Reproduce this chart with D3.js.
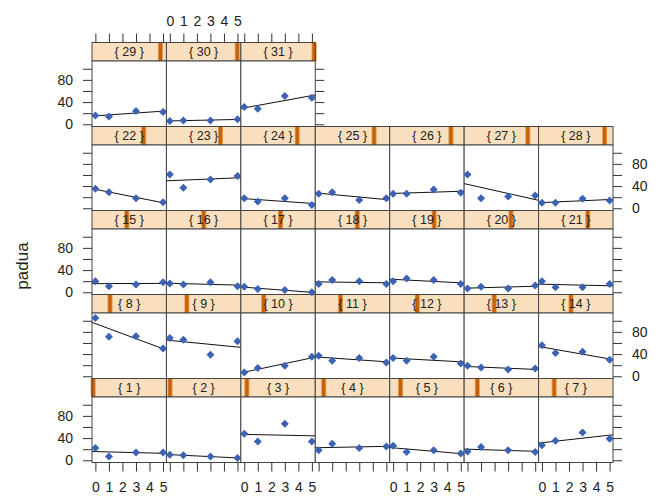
<!DOCTYPE html>
<meta charset="utf-8">
<script src="https://d3js.org/d3.v7.min.js"></script>
<style>
  body { margin: 0; background: #fff; }
  text { font-family: "Liberation Sans", Arial, sans-serif; }
</style>
<div id="chart"></div>
<script>

// days shown in the strips, and the x positions measured in every panel
const days = d3.range(1, 32);
const xValues = [0, 1, 3, 5];

// padua readings per day, one array per panel (x = 0, 1, 3, 5)
const padua = [
  [22, 7, 14, 14],   [10, 9, 7, 4],     [48, 34, 66, 34],  [18, 30, 22, 25],
  [26, 15, 18, 12],  [16, 24, 18, 15],  [27, 35, 50, 39],  [105, 71, 72, 50],
  [69, 66, 39, 63],  [7, 15, 19, 35],   [37, 28, 33, 25],  [33, 28, 35, 23],
  [19, 16, 12, 14],  [56, 42, 44, 30],  [20, 11, 14, 18],  [16, 14, 18, 11],
  [10, 6, 4, 0],     [15, 22, 20, 15],  [20, 25, 22, 15],  [7, 10, 7, 12],
  [20, 9, 9, 15],    [35, 29, 18, 11],  [61, 37, 52, 58],  [18, 12, 18, 6],
  [26, 29, 15, 18],  [26, 26, 34, 28],  [61, 18, 21, 23],  [10, 10, 17, 14],
  [16, 14, 24, 22],  [6, 7, 7, 9],      [31, 28, 51, 48]
];

const yTicks = [0, 20, 40, 60, 80, 100];
const yLabels = [0, 40, 80];
const xTicks = [0, 1, 2, 3, 4, 5];

// layout
const W = 662, H = 499;
const gridLeft = 92, gridRight = 613, gridTop = 42.5;
const nCol = 7, nRow = 5;
const colW = (gridRight - gridLeft) / nCol;
const rowH = 84, stripH = 18.5, panelH = rowH - stripH;
const gridBottom = gridTop + nRow * rowH;

const svg = d3.select("#chart").append("svg")
  .attr("width", W).attr("height", H);

const x = d3.scaleLinear().domain([-0.25, 5.25]).range([0, colW]);
const y = d3.scaleLinear().domain([-4, 114]).range([panelH, 0]);

function fit(pts) {
  const mx = d3.mean(pts, d => d[0]), my = d3.mean(pts, d => d[1]);
  const b = d3.sum(pts, d => (d[0] - mx) * (d[1] - my)) / d3.sum(pts, d => (d[0] - mx) ** 2);
  return [b, my - b * mx];
}

days.forEach((day, i) => {
  const col = i % nCol, row = Math.floor(i / nCol);     // row 0 = bottom
  const gx = gridLeft + col * colW;
  const gy = gridBottom - (row + 1) * rowH;
  const g = svg.append("g").attr("transform", `translate(${gx},${gy})`);

  // strip
  g.append("rect").attr("width", colW).attr("height", stripH)
    .attr("fill", "#f9dfbd");
  const c = (i + 0.5) / days.length * colW;
  g.append("rect").attr("x", c - 2.5).attr("width", 5).attr("height", stripH)
    .attr("fill", "#e39a45");
  g.append("rect").attr("x", c - 1.6).attr("width", 3.2).attr("height", stripH)
    .attr("fill", "#c7600f");
  g.append("text").attr("x", colW / 2).attr("y", stripH / 2 + 4.5)
    .attr("text-anchor", "middle").attr("font-size", 12.5).attr("fill", "#222")
    .text(`{ ${day} }`);
  g.append("rect").attr("width", colW).attr("height", stripH)
    .attr("fill", "none").attr("stroke", "#444");

  // panel
  const p = g.append("g").attr("transform", `translate(0,${stripH})`);
  p.append("rect").attr("width", colW).attr("height", panelH)
    .attr("fill", "#fff").attr("stroke", "#444");

  const pts = xValues.map((v, k) => [v, padua[i][k]]);
  const [b, a] = fit(pts);
  p.append("line")
    .attr("x1", x(-0.25)).attr("y1", y(a + b * -0.25))
    .attr("x2", x(5.25)).attr("y2", y(a + b * 5.25))
    .attr("stroke", "#111").attr("stroke-width", 1);

  p.selectAll("path.pt").data(pts).join("path")
    .attr("class", "pt")
    .attr("d", d3.symbol(d3.symbolSquare, 32))
    .attr("transform", d => `translate(${x(d[0])},${y(d[1])}) rotate(45)`)
    .attr("fill", "#3b62b3");

  const fmtY = d => yLabels.includes(d) ? d : "";
  const fmtNone = () => "";

  // left axis
  if (col === 0) {
    p.append("g").call(d3.axisLeft(y).tickValues(yTicks).tickSize(9).tickPadding(10)
      .tickFormat(row % 2 === 0 ? fmtY : fmtNone));
  }
  // right axis
  if (col === nCol - 1 || (row === nRow - 1 && i === days.length - 1)) {
    p.append("g").attr("transform", `translate(${colW},0)`)
      .call(d3.axisRight(y).tickValues(yTicks).tickSize(9).tickPadding(10)
        .tickFormat(row % 2 === 1 && row !== nRow - 1 ? fmtY : fmtNone));
  }
  // bottom axis
  if (row === 0) {
    p.append("g").attr("transform", `translate(0,${panelH})`)
      .call(d3.axisBottom(x).tickValues(xTicks).tickSize(9).tickPadding(11)
        .tickFormat(col % 2 === 0 ? d => d : fmtNone));
  }
  // top axis
  if (row === nRow - 1) {
    g.append("g")
      .call(d3.axisTop(x).tickValues(xTicks).tickSize(9).tickPadding(8)
        .tickFormat(col % 2 === 1 ? d => d : fmtNone));
  }
});

svg.selectAll(".domain").remove();
svg.selectAll(".tick line").attr("stroke", "#333");
svg.selectAll(".tick text").attr("font-size", 14).attr("fill", "#222")
  .attr("font-family", "'Liberation Sans', Arial, sans-serif");

// y axis title
svg.append("text")
  .attr("transform", "translate(28,266) rotate(-90)")
  .attr("text-anchor", "middle").attr("font-size", 17).attr("fill", "#222")
  .text("padua");
</script>
